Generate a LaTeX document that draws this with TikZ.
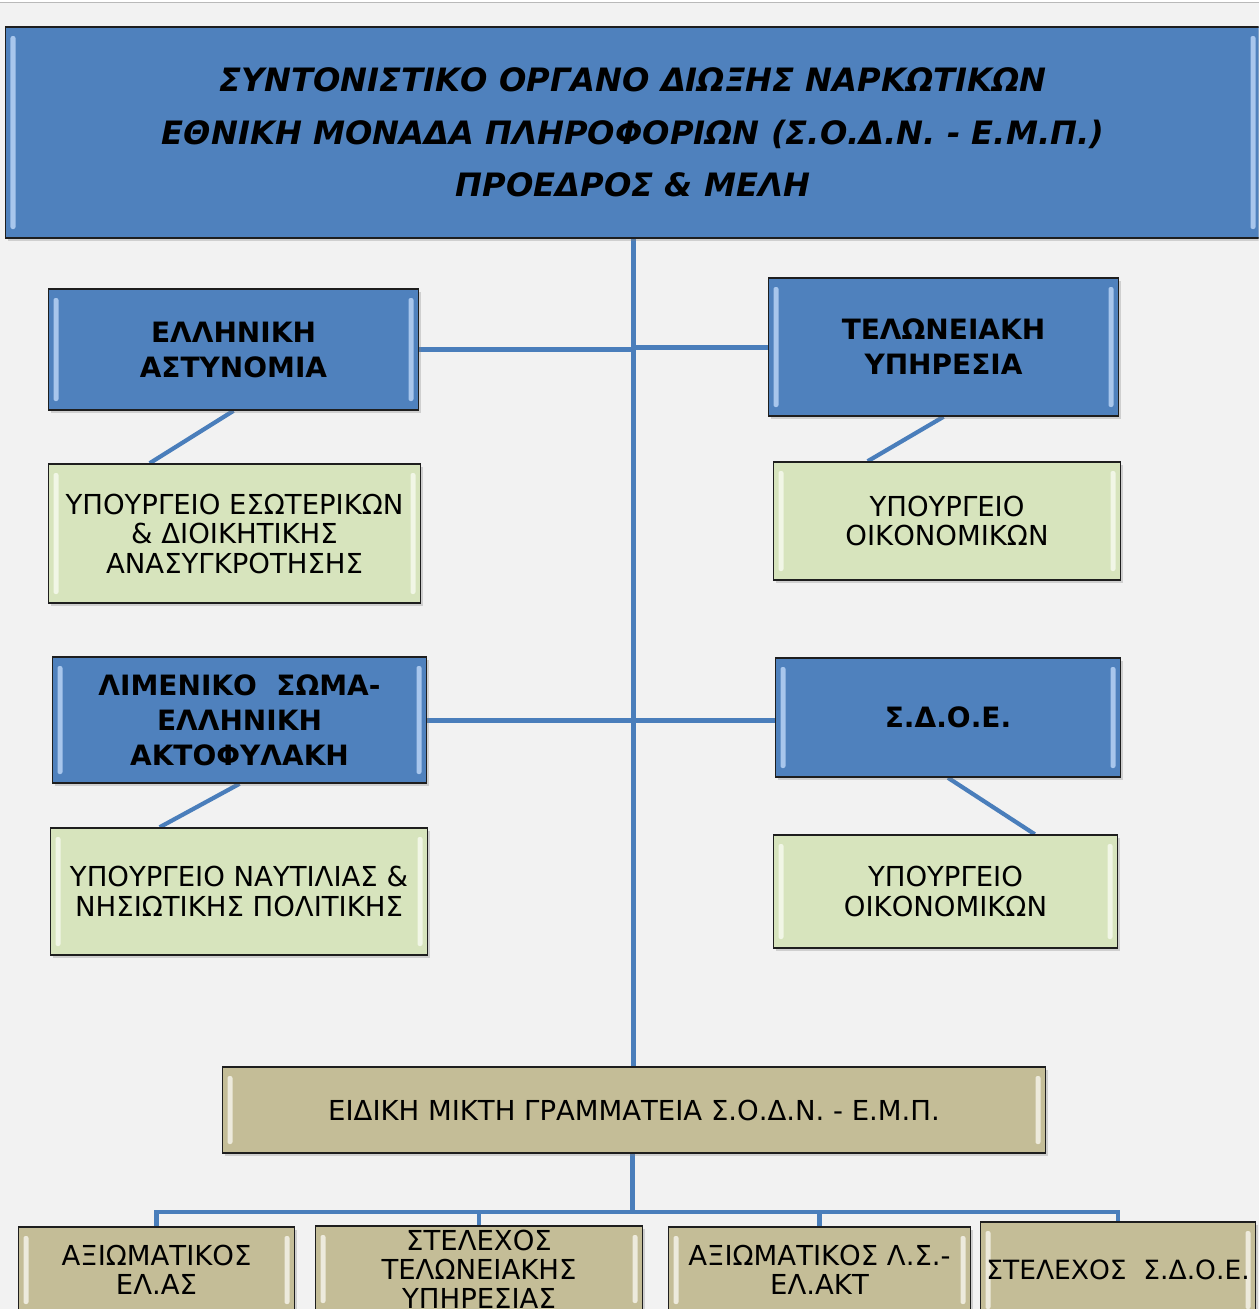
\documentclass[tikz,border=0pt]{standalone}
\usepackage{fontspec}
\setmainfont{DejaVu Sans}
\usetikzlibrary{shadows,calc}
\definecolor{bgc}{HTML}{F2F2F2}
\definecolor{blu}{HTML}{4F81BD}
\definecolor{blulite}{HTML}{A8C6EC}
\definecolor{grn}{HTML}{D7E4BD}
\definecolor{grnlite}{HTML}{F1F6E6}
\definecolor{tanc}{HTML}{C4BD97}
\definecolor{tanlite}{HTML}{EDEADC}
\definecolor{lnc}{HTML}{4A7EBB}
\definecolor{bord}{HTML}{1E1E1E}
\pgfdeclarelayer{back}
\pgfdeclarelayer{mid}
\pgfsetlayers{back,mid,main}
\tikzset{
  box/.style={draw=bord, line width=1.6pt, inner sep=0pt, align=center, text=black,
    drop shadow={opacity=0.3, shadow xshift=2.5pt, shadow yshift=-3pt}},
  bevel/.style={path picture={
    \fill[#1, rounded corners=2pt] ([xshift=5pt,yshift=-9pt]path picture bounding box.north west) rectangle ([xshift=10pt,yshift=9pt]path picture bounding box.south west);
    \fill[#1, rounded corners=2pt] ([xshift=-10pt,yshift=-9pt]path picture bounding box.north east) rectangle ([xshift=-5pt,yshift=9pt]path picture bounding box.south east);
  }},
  bluebox/.style={box, fill=blu, bevel=blulite, font=\fontsize{28}{35}\selectfont\bfseries},
  grnbox/.style={box, fill=grn, bevel=grnlite, font=\fontsize{27.5}{29.5}\selectfont},
  tanbox/.style={box, fill=tanc, bevel=tanlite, font=\fontsize{27.5}{29}\selectfont},
  titlebox/.style={box, fill=blu, bevel=blulite, font=\fontsize{32.2}{52.5}\selectfont\bfseries\itshape},
  conn/.style={draw=lnc, line width=5pt},
  thinconn/.style={draw=lnc, line width=4.2pt},
}
\begin{document}
\begin{tikzpicture}[x=1pt,y=-1pt]
\begin{pgfonlayer}{back}
\fill[bgc] (0,0) rectangle (1258,1309);
\fill[white] (0,0) rectangle (1258,2);
\draw[gray!55, line width=1pt] (0,2.5) -- (1258,2.5);
\end{pgfonlayer}
\useasboundingbox (0,0) rectangle (1258,1309);
\clip (0,0) rectangle (1258,1309);

\node[titlebox, minimum width=1255pt, minimum height=211pt] (title) at (632.5,132.5)
  {ΣΥΝΤΟΝΙΣΤΙΚΟ ΟΡΓΑΝΟ ΔΙΩΞΗΣ ΝΑΡΚΩΤΙΚΩΝ\\ΕΘΝΙΚΗ ΜΟΝΑΔΑ ΠΛΗΡΟΦΟΡΙΩΝ (Σ.Ο.Δ.Ν. - Ε.Μ.Π.)\\ΠΡΟΕΔΡΟΣ \& ΜΕΛΗ};

\node[bluebox, minimum width=370pt, minimum height=121pt] (pol) at (233,349.5) {ΕΛΛΗΝΙΚΗ\\ΑΣΤΥΝΟΜΙΑ};
\node[bluebox, minimum width=350pt, minimum height=138pt] (tel) at (943,347) {ΤΕΛΩΝΕΙΑΚΗ\\ΥΠΗΡΕΣΙΑ};
\node[grnbox, minimum width=372pt, minimum height=139pt] (ypes) at (234,533.5) {ΥΠΟΥΡΓΕΙΟ ΕΣΩΤΕΡΙΚΩΝ\\\& ΔΙΟΙΚΗΤΙΚΗΣ\\ΑΝΑΣΥΓΚΡΟΤΗΣΗΣ};
\node[grnbox, minimum width=347pt, minimum height=118pt] (yoa) at (946.5,521) {ΥΠΟΥΡΓΕΙΟ\\ΟΙΚΟΝΟΜΙΚΩΝ};
\node[bluebox, minimum width=374pt, minimum height=126pt] (lim) at (239,720) {ΛΙΜΕΝΙΚΟ~~ΣΩΜΑ-\\ΕΛΛΗΝΙΚΗ\\ΑΚΤΟΦΥΛΑΚΗ};
\node[bluebox, minimum width=345pt, minimum height=119pt] (sdoe) at (947.5,717.5) {Σ.Δ.Ο.Ε.};
\node[grnbox, minimum width=377pt, minimum height=127pt] (naut) at (238.5,891.5) {ΥΠΟΥΡΓΕΙΟ ΝΑΥΤΙΛΙΑΣ \&\\ΝΗΣΙΩΤΙΚΗΣ ΠΟΛΙΤΙΚΗΣ};
\node[grnbox, minimum width=344pt, minimum height=113pt] (yob) at (945,891.5) {ΥΠΟΥΡΓΕΙΟ\\ΟΙΚΟΝΟΜΙΚΩΝ};
\node[tanbox, minimum width=823pt, minimum height=86pt] (eid) at (633.5,1110) {ΕΙΔΙΚΗ ΜΙΚΤΗ ΓΡΑΜΜΑΤΕΙΑ Σ.Ο.Δ.Ν. - Ε.Μ.Π.};

\node[tanbox, minimum width=276pt, minimum height=86pt] (b1) at (156,1270) {ΑΞΙΩΜΑΤΙΚΟΣ\\ΕΛ.ΑΣ};
\node[tanbox, minimum width=327pt, minimum height=86pt] (b2) at (478.5,1269) {ΣΤΕΛΕΧΟΣ\\ΤΕΛΩΝΕΙΑΚΗΣ\\ΥΠΗΡΕΣΙΑΣ};
\node[tanbox, minimum width=302pt, minimum height=86pt] (b3) at (819,1270) {ΑΞΙΩΜΑΤΙΚΟΣ Λ.Σ.-\\ΕΛ.ΑΚΤ};
\node[tanbox, minimum width=275pt, minimum height=96pt, font=\fontsize{26.5}{29}\selectfont] (b4) at (1117.5,1270) {ΣΤΕΛΕΧΟΣ~~Σ.Δ.Ο.Ε.};

\coordinate (bus) at (632,1212);

\begin{pgfonlayer}{mid}
\draw[conn] (title.south) -- (title.south |- eid.north);
\draw[conn] (pol.east) -- (pol.east -| title.south);
\draw[conn] (tel.west) -- (tel.west -| title.south);
\draw[conn] (lim.east) -- (lim.east -| sdoe.west);
\draw[thinconn] (pol.south) -- ([xshift=102pt]ypes.north west);
\draw[thinconn] (tel.south) -- ([xshift=95pt]yoa.north west);
\draw[thinconn] (lim.south) -- ([xshift=110pt]naut.north west);
\draw[thinconn] (sdoe.south) -- ([xshift=262pt]yob.north west);
\draw[conn] (eid.south -| bus) -- (bus);
\draw[thinconn] (b1.north) -- (b1.north |- bus) -- (b4.north |- bus) -- (b4.north);
\draw[thinconn] (b2.north) -- (b2.north |- bus);
\draw[thinconn] (b3.north) -- (b3.north |- bus);
\end{pgfonlayer}
\end{tikzpicture}
\end{document}
